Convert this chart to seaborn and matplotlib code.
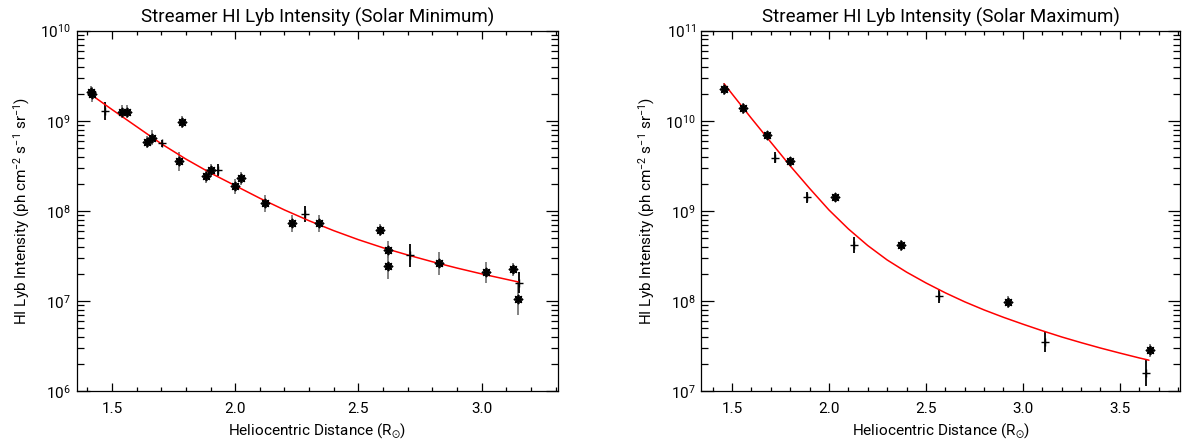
import numpy as np
import pandas as pd
import matplotlib
matplotlib.use("Agg")
import matplotlib.pyplot as plt
from matplotlib.ticker import LogLocator, MultipleLocator, NullFormatter, FormatStrFormatter
import seaborn as sns

# ---- Solar minimum streamer ----
min_star_r = [1.413, 1.420, 1.539, 1.560, 1.641, 1.661, 1.770, 1.783, 1.881, 1.901, 2.000,
              2.022, 2.121, 2.230, 2.339, 2.589, 2.621, 2.621, 2.829, 3.019, 3.129, 3.149]
min_star_i = [2.10e9, 1.98e9, 1.26e9, 1.26e9, 5.8e8, 6.5e8, 3.56e8, 9.7e8, 2.43e8, 2.83e8, 1.88e8,
              2.29e8, 1.21e8, 7.25e7, 7.25e7, 6.1e7, 3.72e7, 2.43e7, 2.61e7, 2.07e7, 2.25e7, 1.06e7]
min_star_err = [0.063, 0.083, 0.070, 0.075, 0.065, 0.087, 0.107, 0.068, 0.080, 0.072, 0.083,
                0.074, 0.096, 0.093, 0.098, 0.068, 0.090, 0.139, 0.126, 0.120, 0.074, 0.180]

min_plus_r = [1.472, 1.702, 1.932, 2.282, 2.711, 3.152]
min_plus_i = [1.29e9, 5.6e8, 2.83e8, 9.2e7, 3.22e7, 1.6e7]
min_plus_err = [0.100, 0.040, 0.065, 0.087, 0.126, 0.120]

min_fit_r = [1.41, 1.50, 1.60, 1.70, 1.80, 1.90, 2.00, 2.10, 2.20, 2.30, 2.40, 2.50, 2.60,
             2.70, 2.80, 2.90, 3.00, 3.10, 3.15]
min_fit_log = [9.30, 9.125, 8.935, 8.745, 8.575, 8.42, 8.28, 8.14, 8.01, 7.89, 7.78, 7.68,
               7.59, 7.51, 7.435, 7.365, 7.30, 7.24, 7.21]

# ---- Solar maximum streamer ----
max_star_r = [1.459, 1.555, 1.679, 1.799, 2.031, 2.370, 2.923, 3.655]
max_star_i = [2.25e10, 1.37e10, 6.9e9, 3.6e9, 1.41e9, 4.16e8, 9.75e7, 2.83e7]
max_star_err = [0.065, 0.060, 0.030, 0.045, 0.035, 0.060, 0.065, 0.074]

max_plus_r = [1.722, 1.888, 2.131, 2.569, 3.113, 3.634]
max_plus_i = [3.9e9, 1.41e9, 4.2e8, 1.13e8, 3.5e7, 1.6e7]
max_plus_err = [0.065, 0.065, 0.087, 0.080, 0.110, 0.148]

max_fit_r = [1.46, 1.50, 1.60, 1.70, 1.80, 1.90, 2.00, 2.10, 2.20, 2.30, 2.40, 2.50, 2.60,
             2.70, 2.80, 2.90, 3.00, 3.10, 3.20, 3.30, 3.40, 3.50, 3.60, 3.65]
max_fit_log = [10.41, 10.30, 10.028, 9.763, 9.50, 9.25, 9.01, 8.80, 8.615, 8.455, 8.32, 8.20,
               8.09, 7.99, 7.90, 7.818, 7.742, 7.669, 7.60, 7.537, 7.477, 7.421, 7.367, 7.342]

titles = ["Streamer HI Lyb Intensity (Solar Minimum)",
          "Streamer HI Lyb Intensity (Solar Maximum)"]
xlabel = r"Heliocentric Distance (R$_{\odot}$)"
ylabel = r"HI Lyb Intensity (ph cm$^{-2}$ s$^{-1}$ sr$^{-1}$)"

sns.set_style("ticks")
plt.rcParams["font.family"] = ["Roboto", "DejaVu Sans"]
plt.rcParams["mathtext.fontset"] = "custom"
plt.rcParams["mathtext.rm"] = "Roboto"
plt.rcParams["mathtext.it"] = "Roboto"
plt.rcParams["mathtext.sf"] = "Roboto"
plt.rcParams["mathtext.default"] = "regular"
for key in ["text.color", "axes.labelcolor", "xtick.color", "ytick.color",
            "xtick.labelcolor", "ytick.labelcolor", "axes.edgecolor"]:
    plt.rcParams[key] = "black"

W, H = 1192, 441
fig = plt.figure(figsize=(W / 100, H / 100), dpi=100)
ax1 = fig.add_axes([76.5 / W, 1 - 391 / H, (558 - 76.5) / W, (391 - 30.7) / H])
ax2 = fig.add_axes([701.5 / W, 1 - 391 / H, (1180 - 701.5) / W, (391 - 30.7) / H])


def bars(ax, r, i, e, color):
    i = np.asarray(i)
    e = np.asarray(e)
    lo = i - i * 10 ** (-e)
    hi = i * 10 ** e - i
    ax.errorbar(r, i, yerr=[lo, hi], fmt="none", ecolor=color, elinewidth=1.3,
                capsize=0, zorder=2)


def panel(ax, star_r, star_i, star_e, plus_r, plus_i, plus_e, fit_r, fit_log,
          xlim, ylim, title):
    ax.set_yscale("log")
    bars(ax, star_r, star_i, star_e, "#7a7a7a")
    bars(ax, plus_r, plus_i, plus_e, "black")
    fit = pd.DataFrame({"r": fit_r, "I": 10 ** np.asarray(fit_log)})
    sns.lineplot(data=fit, x="r", y="I", ax=ax, color="red", lw=1.1, zorder=3,
                 sort=False, estimator=None)
    stars = pd.DataFrame({"r": star_r, "I": star_i})
    sns.scatterplot(data=stars, x="r", y="I", ax=ax, marker=(8, 2, 0), s=32,
                    color="black", edgecolor="black", linewidth=1.3, zorder=4)
    pluses = pd.DataFrame({"r": plus_r, "I": plus_i})
    sns.scatterplot(data=pluses, x="r", y="I", ax=ax, marker="+", s=36,
                    color="black", linewidth=1.0, zorder=4)
    ax.set_xlim(*xlim)
    ax.set_ylim(*ylim)
    ax.set_title(title, fontsize=13.5, pad=6, color="black")
    ax.set_xlabel(xlabel, fontsize=11, labelpad=4, color="black")
    ax.set_ylabel(ylabel, fontsize=11, labelpad=6, color="black")
    ax.xaxis.set_major_locator(MultipleLocator(0.5))
    ax.xaxis.set_minor_locator(MultipleLocator(0.1))
    ax.xaxis.set_major_formatter(FormatStrFormatter("%.1f"))
    ax.yaxis.set_major_locator(LogLocator(base=10, numticks=20))
    ax.yaxis.set_minor_locator(LogLocator(base=10, subs=np.arange(2, 10), numticks=20))
    ax.yaxis.set_minor_formatter(NullFormatter())
    ax.tick_params(axis="both", which="both", direction="in", top=True, right=True,
                   color="black", labelcolor="black", width=0.9, labelsize=11)
    ax.tick_params(axis="x", which="major", length=6, pad=8)
    ax.tick_params(axis="x", which="minor", length=3)
    ax.tick_params(axis="y", which="major", length=9, pad=4)
    ax.tick_params(axis="y", which="minor", length=5)
    for s in ax.spines.values():
        s.set_visible(True)
        s.set_color("black")
        s.set_linewidth(0.9)


panel(ax1, min_star_r, min_star_i, min_star_err, min_plus_r, min_plus_i, min_plus_err,
      min_fit_r, min_fit_log, (1.356, 3.31), (1e6, 1e10), titles[0])
panel(ax2, max_star_r, max_star_i, max_star_err, max_plus_r, max_plus_i, max_plus_err,
      max_fit_r, max_fit_log, (1.343, 3.81), (1e7, 1e11), titles[1])

fig.savefig("out.png", dpi=100)
